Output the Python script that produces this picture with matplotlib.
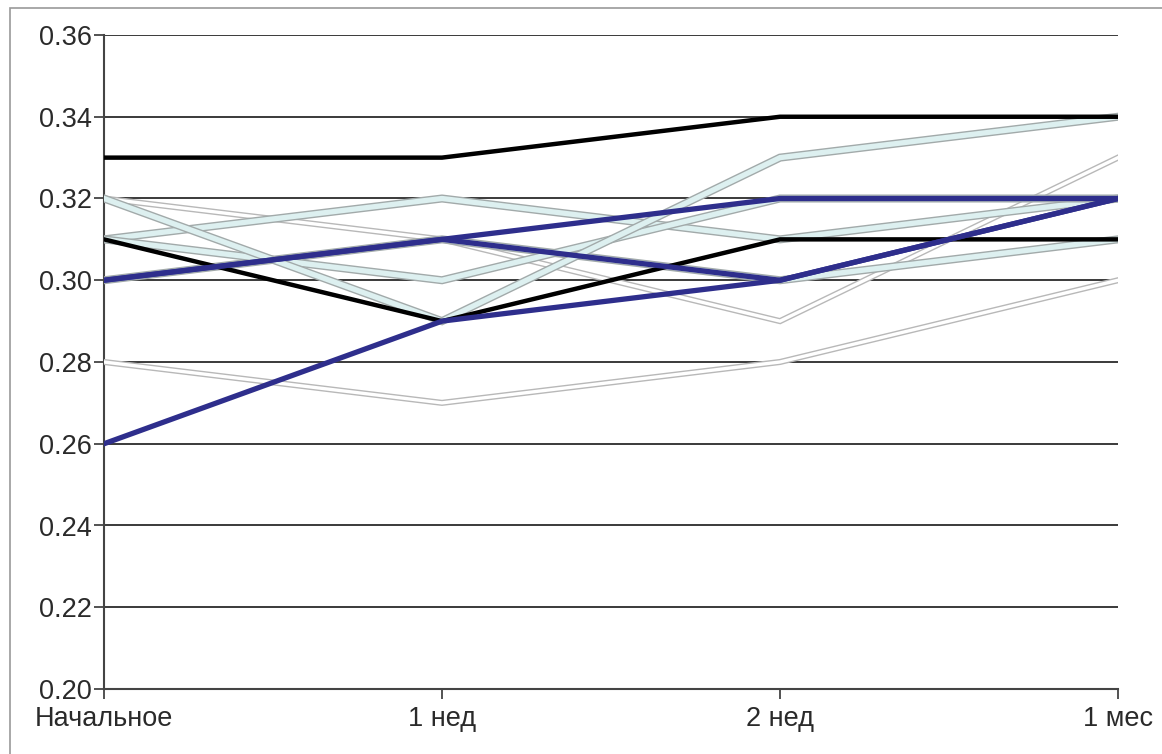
import matplotlib.pyplot as plt
from matplotlib.patches import Rectangle

plt.rcParams['font.family'] = ['Liberation Sans', 'DejaVu Sans']

stages = ["Начальное", "1 нед", "2 нед", "1 мес"]

# white (gray-outlined) series
white_1 = [0.32, 0.31, 0.29, 0.33]
white_2 = [0.28, 0.27, 0.28, 0.30]
# light blue (outlined) series
light_1 = [0.31, 0.32, 0.31, 0.32]
light_2 = [0.31, 0.30, 0.32, 0.32]
light_3 = [0.32, 0.29, 0.33, 0.34]
light_4 = [0.30, 0.31, 0.30, 0.31]
# dark blue series
blue_1 = [0.30, 0.31, 0.32, 0.32]
blue_2 = [0.30, 0.31, 0.30, 0.32]
blue_3 = [0.26, 0.29, 0.30, 0.32]
# black series
black_1 = [0.33, 0.33, 0.34, 0.34]
black_2 = [0.31, 0.29, 0.31, 0.31]

yticks = [0.20, 0.22, 0.24, 0.26, 0.28, 0.30, 0.32, 0.34, 0.36]

fig = plt.figure(figsize=(11.62, 7.54), dpi=100)
ax = fig.add_axes([104 / 1162, 1 - 689 / 754, (1118 - 104) / 1162, (689 - 35) / 754])

x = range(len(stages))

for s in [white_1, white_2]:
    ax.plot(x, s, color='#b8b8b8', lw=4.4, solid_joinstyle='miter', zorder=3)
    ax.plot(x, s, color='white', lw=2.4, solid_joinstyle='miter', zorder=3)
for s in [light_4, light_1, light_2, light_3]:
    ax.plot(x, s, color='#a2aaaa', lw=5.8, solid_joinstyle='miter', zorder=4)
    ax.plot(x, s, color='#ddf0f0', lw=3.8, solid_joinstyle='miter', zorder=4)
for s in [black_1, black_2]:
    ax.plot(x, s, color='black', lw=3.2, zorder=5)
for s in [blue_1, blue_2, blue_3]:
    ax.plot(x, s, color='#2e2e8c', lw=3.8, zorder=6)

ax.set_xlim(0, 3)
ax.set_ylim(0.20, 0.36)
ax.set_yticks(yticks)
ax.set_yticklabels([f"{v:.2f}" for v in yticks])
ax.set_xticks(list(x))
ax.set_xticklabels(stages)

ax.grid(axis='y', color='#3a3a3a', lw=1.4, zorder=1)
ax.grid(axis='x', visible=False)
ax.set_axisbelow(True)

for side in ['top', 'right']:
    ax.spines[side].set_visible(False)
for side in ['left', 'bottom']:
    ax.spines[side].set_color('#444444')
    ax.spines[side].set_linewidth(1.5)

ax.tick_params(axis='both', colors='#444444', labelcolor='#2a2a2a',
               labelsize=19.5, length=7, width=1.3, pad=2)
ax.tick_params(axis='x', pad=5)

# outer frame of the picture
fig.patches.append(Rectangle((10 / 1162, -0.1), 1.2, 1 - 8 / 754 + 0.1,
                             transform=fig.transFigure, fill=False,
                             edgecolor='#999999', lw=1.2))

fig.savefig("out.png", dpi=100)
